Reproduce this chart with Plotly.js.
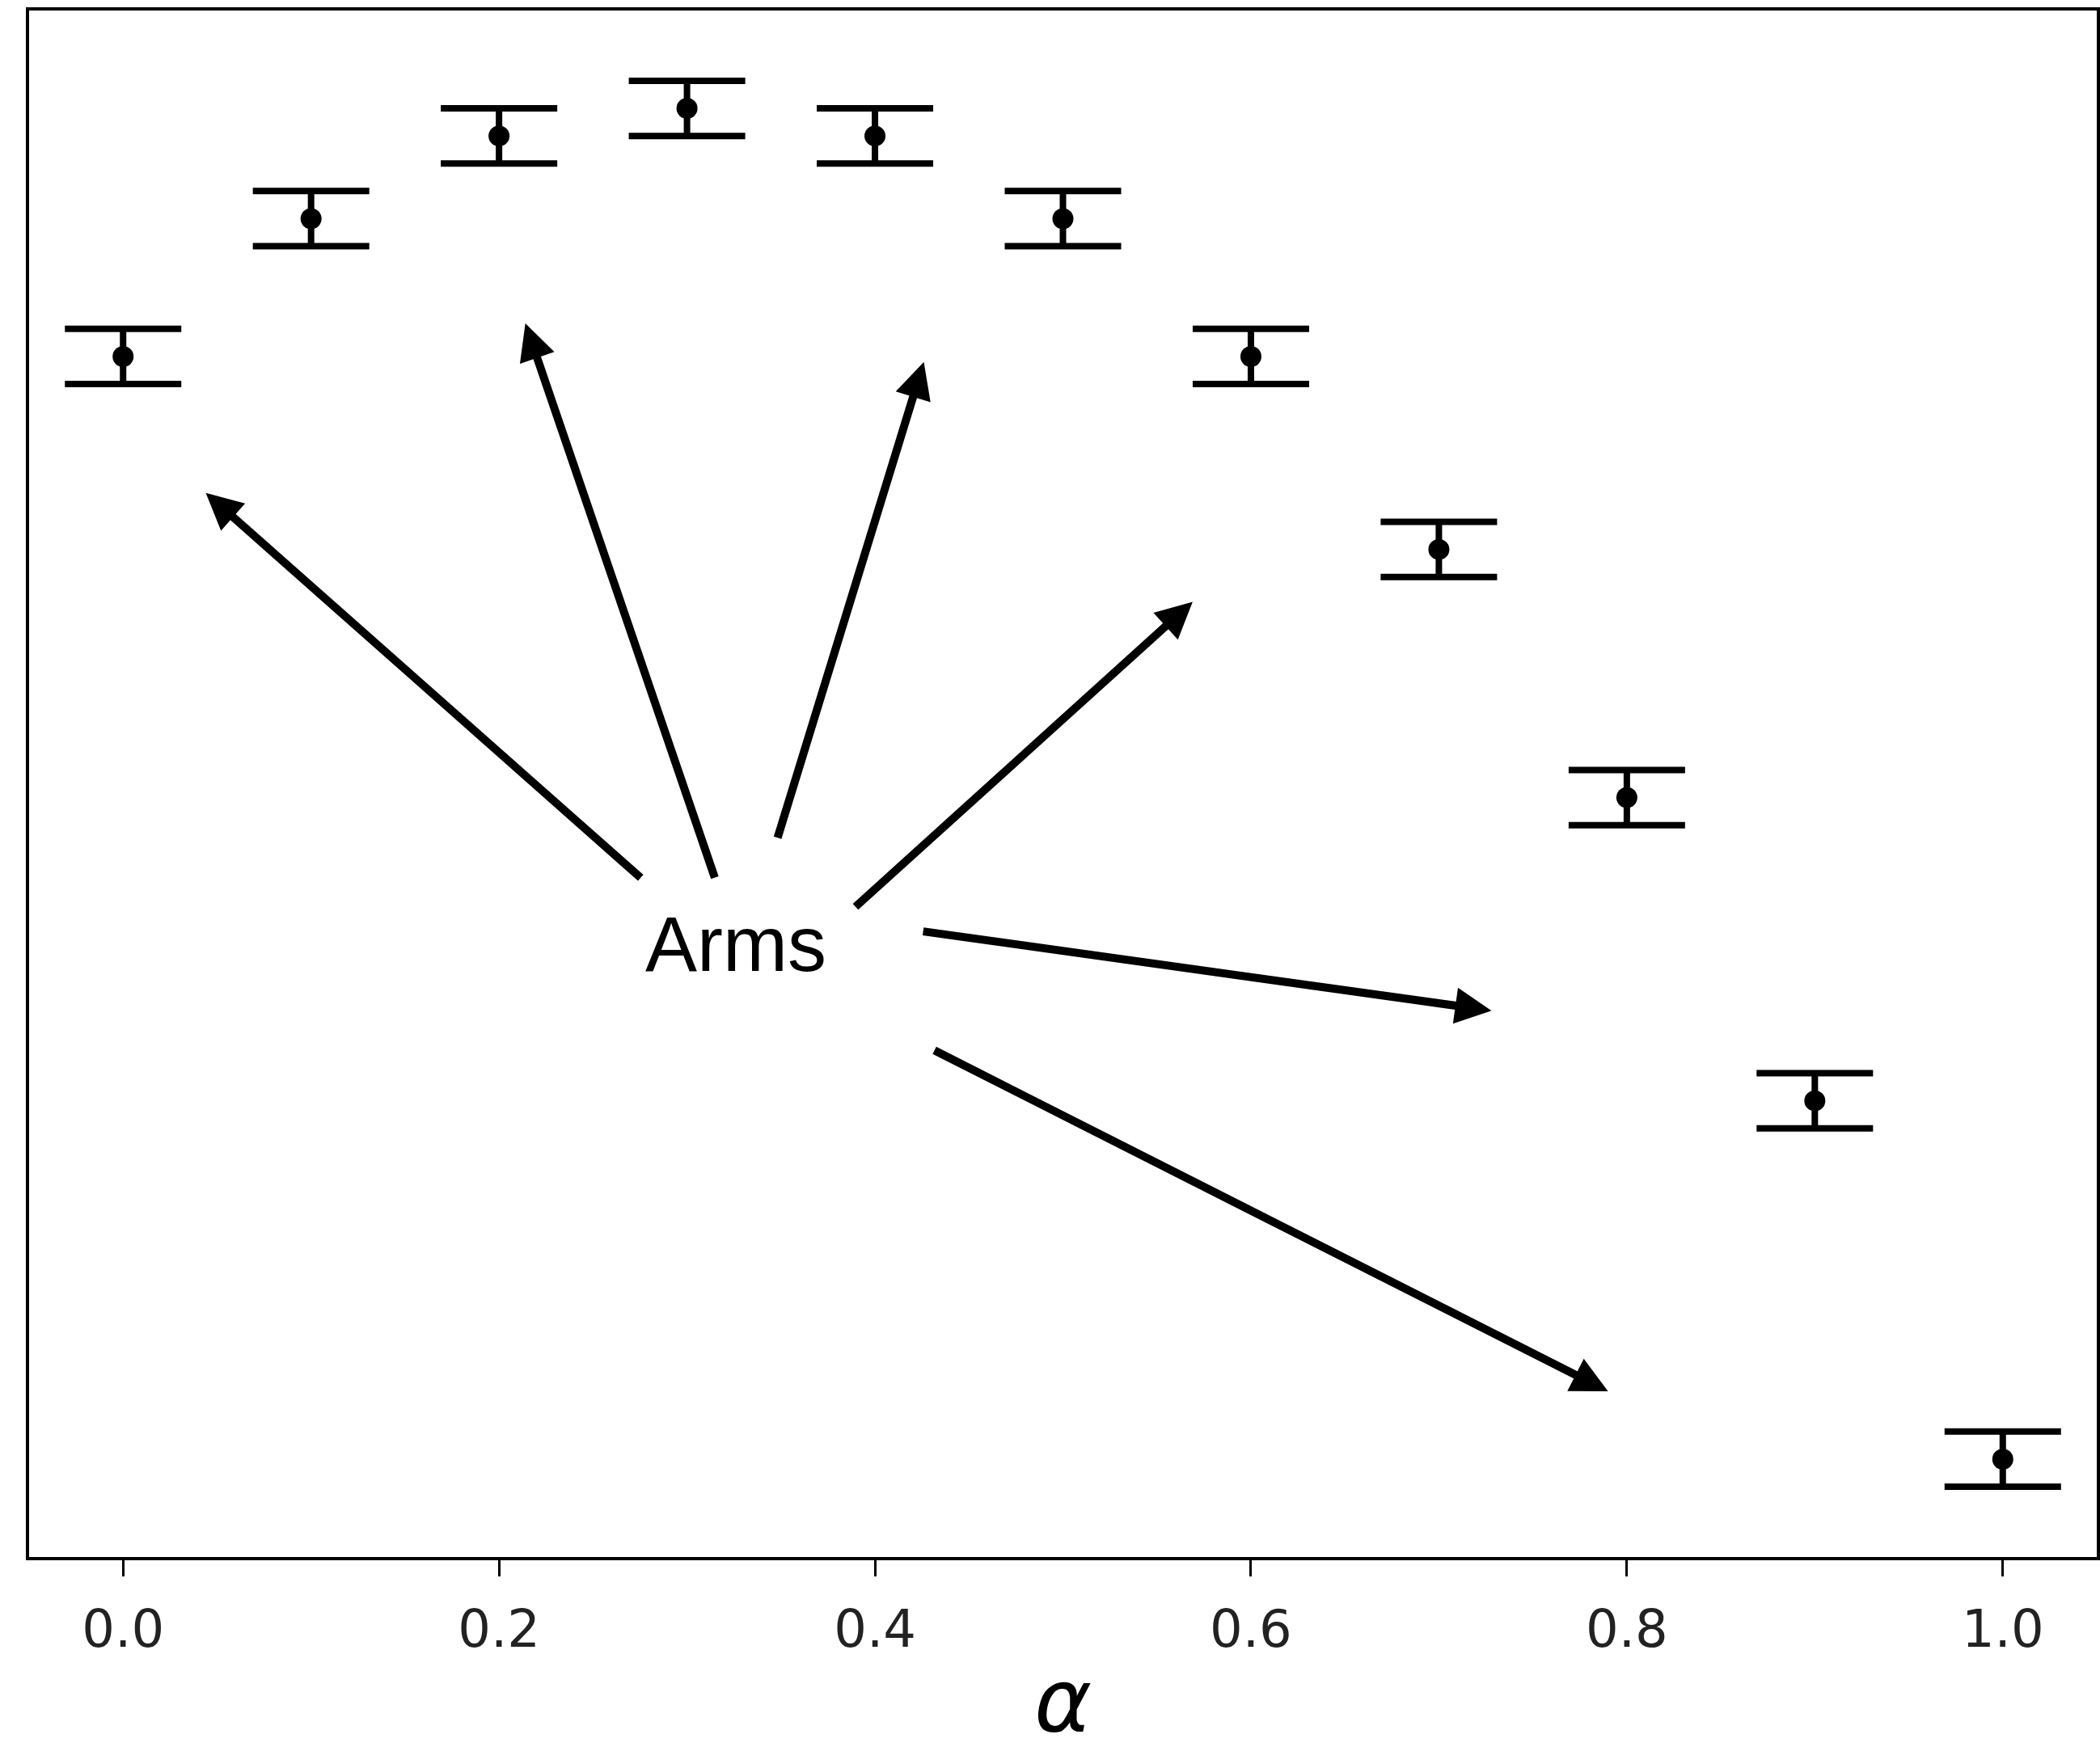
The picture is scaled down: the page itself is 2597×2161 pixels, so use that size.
<!DOCTYPE html>
<html>
<head>
<meta charset="utf-8">
<script src="https://cdn.plot.ly/plotly-3.0.1.min.js"></script>
<style>html,body{margin:0;padding:0;background:#fff;}#chart{width:2597px;height:2161px;}</style>
</head>
<body>
<div id="chart"></div>
<script>
// Data
const alphaValues = [0.0, 0.1, 0.2, 0.3, 0.4, 0.5, 0.6, 0.7, 0.8, 0.9, 1.0];
const meanValues  = [0.91, 0.96, 0.99, 1.00, 0.99, 0.96, 0.91, 0.84, 0.75, 0.64, 0.51];
const errorValues = [0.01, 0.01, 0.01, 0.01, 0.01, 0.01, 0.01, 0.01, 0.01, 0.01, 0.01];
const tickValues  = [0.0, 0.2, 0.4, 0.6, 0.8, 1.0];
const tickLabels  = ["0.0", "0.2", "0.4", "0.6", "0.8", "1.0"];
const xAxisTitle  = "α";

// Annotation "Arms" and its arrows (data coordinates)
const labelText = "Arms";
const labelX = 0.326;
const labelY = 0.697;
const arrowTailX = [0.276, 0.315, 0.348, 0.389, 0.425, 0.431];
const arrowTailY = [0.7205, 0.7205, 0.735, 0.710, 0.7015, 0.6585];
const arrowHeadX = [0.044, 0.214, 0.426, 0.569, 0.728, 0.790];
const arrowHeadY = [0.8605, 0.922, 0.908, 0.821, 0.6727, 0.5346];

const trace = {
  x: alphaValues,
  y: meanValues,
  mode: 'markers',
  type: 'scatter',
  marker: {color: '#000', size: 26},
  error_y: {type: 'data', array: errorValues, visible: true, color: '#000', thickness: 8, width: 72},
  showlegend: false,
  hoverinfo: 'skip'
};

const annotations = [];
for (let i = 0; i < arrowTailX.length; i++) {
  annotations.push({
    x: arrowHeadX[i], y: arrowHeadY[i], xref: 'x', yref: 'y',
    ax: arrowTailX[i], ay: arrowTailY[i], axref: 'x', ayref: 'y',
    text: '', showarrow: true, arrowhead: 2, arrowsize: 0.9, arrowwidth: 10, arrowcolor: '#000'
  });
}
annotations.push({
  x: labelX, y: labelY, xref: 'x', yref: 'y', text: labelText, showarrow: false,
  font: {family: 'Liberation Sans, Arial, sans-serif', size: 96, color: '#000'},
  xanchor: 'center', yanchor: 'middle'
});
// x-axis title (placed as a paper annotation so it can sit low like the reference)
annotations.push({
  x: 0.5, y: -0.093, xref: 'paper', yref: 'paper', text: '<i>' + xAxisTitle + '</i>', showarrow: false,
  font: {family: 'DejaVu Sans, sans-serif', size: 108, color: '#000'},
  xanchor: 'center', yanchor: 'middle'
});

const layout = {
  width: 2597, height: 2161,
  margin: {l: 36, r: 4, t: 13, b: 235},
  paper_bgcolor: '#fff', plot_bgcolor: '#fff',
  xaxis: {
    range: [-0.05, 1.05],
    tickvals: tickValues, ticktext: tickLabels,
    ticks: 'outside', ticklen: 20, tickwidth: 3, tickcolor: '#000',
    ticklabelstandoff: 10,
    showline: true, linecolor: '#000', linewidth: 4, mirror: true,
    showgrid: false, zeroline: false,
    tickfont: {family: 'DejaVu Sans, sans-serif', size: 64, color: '#222'}
  },
  yaxis: {
    range: [0.4745, 1.0355],
    showticklabels: false, ticks: '',
    showline: true, linecolor: '#000', linewidth: 4, mirror: true,
    showgrid: false, zeroline: false
  },
  annotations: annotations
};

Plotly.newPlot('chart', [trace], layout, {staticPlot: true});
</script>
</body>
</html>
